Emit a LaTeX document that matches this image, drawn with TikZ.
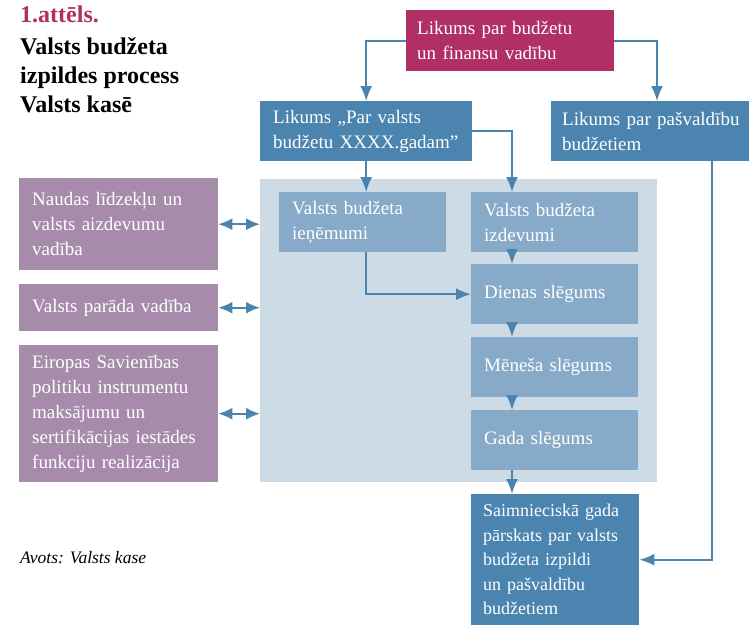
\documentclass[tikz,border=0pt]{standalone}
\usepackage{fontspec}
\setmainfont{Liberation Serif}[BoldFont={Liberation Serif Bold},ItalicFont={Liberation Serif Italic}]
\usetikzlibrary{arrows.meta}
\definecolor{mag}{HTML}{B02F65}
\definecolor{dkb}{HTML}{4A84AF}
\definecolor{mdb}{HTML}{86AAC7}
\definecolor{ltb}{HTML}{CCDBE6}
\definecolor{pur}{HTML}{A68BAB}
\definecolor{arr}{HTML}{4A84AF}
\tikzset{
  box/.style={anchor=north west, inner xsep=13pt, inner ysep=0pt, align=left,
    text=white, font=\fontsize{19}{25}\selectfont},
  conn/.style={draw=arr, line width=1.8pt, -{Latex[length=15pt,width=12pt]}},
  dconn/.style={draw=arr, line width=1.8pt, {Latex[length=14pt,width=12pt]}-{Latex[length=14pt,width=12pt]}},
  ttl/.style={anchor=base west, inner sep=0pt, font=\fontsize{24}{29}\selectfont\bfseries}
}
\begin{document}
\begin{tikzpicture}[x=1pt,y=-1pt]
\useasboundingbox (0,0) rectangle (749,625);
% title
\node[ttl, text=mag] (t0) at (20,22) {1.attēls.};
\node[ttl] (t1) at (20,54) {Valsts budžeta};
\node[ttl] (t2) at (20,83) {izpildes process};
\node[ttl] (t3) at (20,112) {Valsts kasē};
\node[anchor=base west, inner sep=0pt, font=\fontsize{17.5}{20}\selectfont\itshape] (src) at (20,563) {Avots: Valsts kase};
% helper coordinates
\coordinate (xr) at (512,0);
\coordinate (xp) at (657,0);
\coordinate (xq) at (712,0);
% panel
\node[fill=ltb, anchor=north west, minimum width=397pt, minimum height=303pt, inner sep=0pt] (panel) at (260,179) {};
% boxes
\node[box, fill=mag, text width=186pt, minimum height=61pt, inner xsep=11pt] (law) at (406,10) {Likums par budžetu\\un finansu vadību};
\node[box, fill=dkb, text width=186pt, minimum height=60pt] (vb) at (260,101) {Likums „Par valsts\\budžetu XXXX.gadam”};
\node[box, fill=dkb, text width=184pt, minimum height=60pt, inner xsep=11pt] (pb) at (551,101) {Likums par pašvaldību\\budžetiem};
\node[box, fill=mdb, text width=141pt, minimum height=60pt] (ien) at (279,192) {Valsts budžeta\\ieņēmumi};
\node[box, fill=mdb, text width=141pt, minimum height=60pt] (izd) at (471,192) {Valsts budžeta\\izdevumi};
\node[box, fill=mdb, text width=141pt, minimum height=60pt] (dien) at (471,264) {Dienas slēgums};
\node[box, fill=mdb, text width=141pt, minimum height=60pt] (men) at (471,337) {Mēneša slēgums};
\node[box, fill=mdb, text width=141pt, minimum height=60pt] (gada) at (471,410) {Gada slēgums};
\node[box, fill=dkb, text width=150pt, minimum height=131pt, inner xsep=9pt, font=\fontsize{18}{24.5}\selectfont] (saim) at (471,494) {\hspace*{3pt}Saimnieciskā gada\\\hspace*{3pt}pārskats par valsts\\\hspace*{3pt}budžeta izpildi\\\hspace*{3pt}un pašvaldību\\\hspace*{3pt}budžetiem};
\node[box, fill=pur, text width=173pt, minimum height=92pt] (p1) at (19,178) {Naudas līdzekļu un\\valsts aizdevumu\\vadība};
\node[box, fill=pur, text width=173pt, minimum height=47pt] (p2) at (19,284) {Valsts parāda vadība};
\node[box, fill=pur, text width=173pt, minimum height=137pt] (p3) at (19,345) {Eiropas Savienības\\politiku instrumentu\\maksājumu un\\sertifikācijas iestādes\\funkciju realizācija};
% connectors
\draw[conn] (law.west) -| (vb.north);
\draw[conn] (law.east) -| (pb.north -| xp);
\draw[conn] (vb.east) -| (izd.north -| xr);
\draw[conn] (vb.south) -- (vb.south |- ien.north);
\draw[conn] (vb.south |- ien.south) |- (dien.west);
\draw[conn] (izd.south -| xr) -- (dien.north -| xr);
\draw[conn] (dien.south -| xr) -- (men.north -| xr);
\draw[conn] (men.south -| xr) -- (gada.north -| xr);
\draw[conn] (gada.south -| xr) -- (saim.north -| xr);
\draw[conn] (pb.south -| xq) |- (saim.east);
\draw[dconn] (p1.east) -- (p1.east -| panel.west);
\draw[dconn] (p2.east) -- (p2.east -| panel.west);
\draw[dconn] (p3.east) -- (p3.east -| panel.west);
\end{tikzpicture}
\end{document}
